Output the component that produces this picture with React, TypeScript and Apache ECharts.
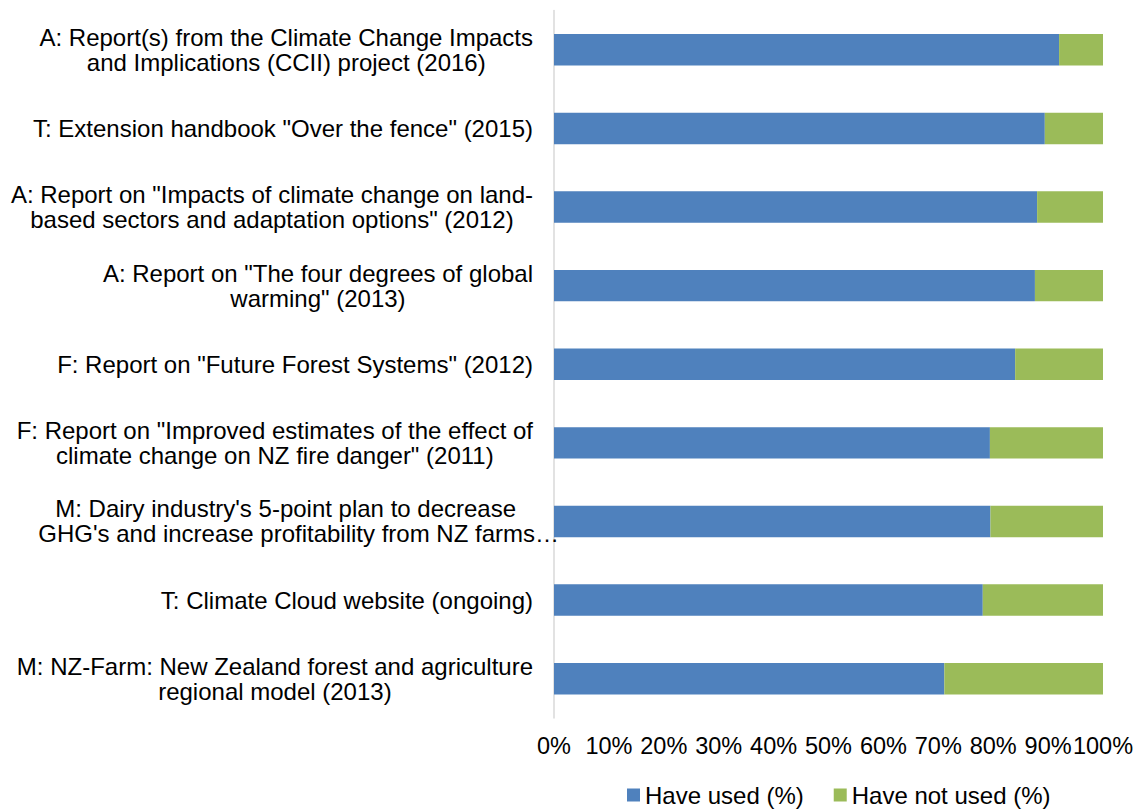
import React, { useEffect, useRef } from "react";
import * as echarts from "echarts";

const categories: string[][] = [
  ["A: Report(s) from the Climate Change Impacts", "and Implications (CCII) project (2016)"],
  ['T: Extension handbook "Over the fence" (2015)'],
  ['A: Report on "Impacts of climate change on land-', 'based sectors and adaptation options" (2012)'],
  ['A: Report on "The four degrees of global', 'warming" (2013)'],
  ['F: Report on "Future Forest Systems" (2012)'],
  ['F: Report on "Improved estimates of the effect of', 'climate change on NZ fire danger" (2011)'],
  ["M: Dairy industry's 5-point plan to decrease", "GHG's and increase profitability from NZ farms\u2026"],
  ["T: Climate Cloud website (ongoing)"],
  ["M: NZ-Farm: New Zealand forest and agriculture", "regional model (2013)"],
];

const haveUsed: number[] = [92.0, 89.4, 88.0, 87.6, 84.0, 79.4, 79.5, 78.1, 71.1];
const haveNotUsed: number[] = [8.0, 10.6, 12.0, 12.4, 16.0, 20.6, 20.5, 21.9, 28.9];
const seriesNames: string[] = ["Have used (%)", "Have not used (%)"];

const FONT = "'Liberation Sans', Arial, sans-serif";

export default function App() {
  const ref = useRef<HTMLDivElement>(null);
  useEffect(() => {
    if (!ref.current) return;
    const chart = echarts.init(ref.current, undefined, { renderer: "svg" });
    const lineStyle = {
      align: "center",
      fontFamily: FONT,
      fontSize: 24,
      lineHeight: 25,
      color: "#000",
    };
    chart.setOption({
      animation: false,
      backgroundColor: "#ffffff",
      grid: { left: 554, right: 34, top: 10.5, bottom: 91, containLabel: false },
      legend: {
        data: seriesNames,
        left: 622,
        top: 778,
        padding: 5,
        icon: "rect",
        itemWidth: 13,
        itemHeight: 13,
        itemGap: 30,
        textStyle: { fontFamily: FONT, fontSize: 24, color: "#000" },
      },
      xAxis: {
        type: "value",
        min: 0,
        max: 100,
        interval: 10,
        axisLine: { show: false },
        axisTick: { show: false },
        splitLine: { show: false },
        axisLabel: {
          formatter: "{value}%",
          fontFamily: FONT,
          fontSize: 23.5,
          color: "#000",
          margin: 16,
        },
      },
      yAxis: {
        type: "category",
        inverse: true,
        data: categories.map((c) => c.join("\n")),
        axisLine: { show: true, lineStyle: { color: "#d9d9d9", width: 1.5 } },
        axisTick: { show: false },
        axisLabel: {
          margin: 21,
          align: "right",
          formatter: (v: string) =>
            v
              .split("\n")
              .map((l) => (l.endsWith("\u2026") ? "{d|" + l + "}" : "{c|" + l + "}"))
              .join("\n"),
          rich: {
            c: lineStyle,
            d: { ...lineStyle, padding: [0, -26, 0, 0] },
          },
        },
      },
      series: [
        {
          name: seriesNames[0],
          type: "bar",
          stack: "total",
          data: haveUsed,
          barCategoryGap: "60%",
          itemStyle: { color: "#4F81BD" },
        },
        {
          name: seriesNames[1],
          type: "bar",
          stack: "total",
          data: haveNotUsed,
          barCategoryGap: "60%",
          itemStyle: { color: "#9BBB59" },
        },
      ],
    });
    return () => chart.dispose();
  }, []);
  return (
    <div
      ref={ref}
      style={{ position: "fixed", left: 0, top: 0, width: 1137, height: 809 }}
    />
  );
}
